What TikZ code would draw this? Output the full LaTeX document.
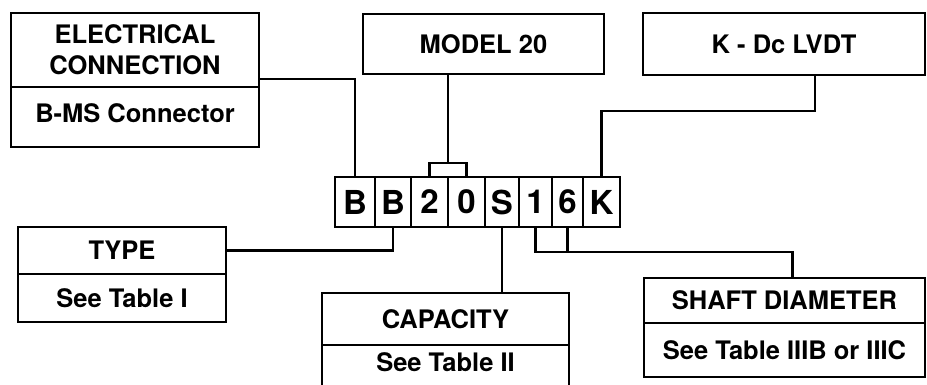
\documentclass[tikz,border=0pt]{standalone}
\usepackage{fontspec}
\setmainfont{TeX Gyre Heros}
\usetikzlibrary{positioning}

\tikzset{
  box/.style={draw, line width=2.2pt, inner sep=0pt, outer sep=0pt, align=center,
    font=\fontsize{25.5}{31}\selectfont\bfseries},
  cell/.style={draw, line width=2.2pt, inner sep=0pt, outer sep=0pt, minimum height=50pt,
    font=\fontsize{33}{33}\selectfont\bfseries},
  wire/.style={line width=2.2pt}
}

\begin{document}
\begin{tikzpicture}[x=1pt, y=1pt]
\useasboundingbox (0,0) rectangle (927,384);
% code row
\node[cell, minimum width=40pt] (c1) at (355,182) {B};
\node[cell, minimum width=36pt, right=0pt of c1] (c2) {B};
\node[cell, minimum width=37pt, right=0pt of c2] (c3) {2};
\node[cell, minimum width=37pt, right=0pt of c3] (c4) {0};
\node[cell, minimum width=34pt, right=0pt of c4] (c5) {S};
\node[cell, minimum width=33pt, right=0pt of c5] (c6) {1};
\node[cell, minimum width=31pt, right=0pt of c6] (c7) {6};
\node[cell, minimum width=37pt, right=0pt of c7] (c8) {K};
% boxes
\node[box, minimum width=248pt, minimum height=74pt] (elechead) at (135,334) {ELECTRICAL\\CONNECTION};
\node[box, minimum width=248pt, minimum height=60pt, text height=18pt, text depth=8pt, below=0pt of elechead] (elecbody) {B-MS Connector};
\node[box, minimum width=241pt, minimum height=60pt] (model) at (483.5,340) {MODEL 20};
\node[box, minimum width=282pt, minimum height=62pt] (lvdt) at (784,340) {K - Dc LVDT};
\node[box, minimum width=208pt, minimum height=47pt] (typehead) at (122,133.5) {TYPE};
\node[box, minimum width=208pt, minimum height=48pt, below=0pt of typehead] (typebody) {See Table I};
\node[box, minimum width=247pt, minimum height=52pt] (caphead) at (445.5,65) {CAPACITY};
\node[box, minimum width=247pt, minimum height=44pt, text height=18pt, text depth=10pt, below=0pt of caphead] (capbody) {See Table II};
\node[box, minimum width=281pt, minimum height=45pt] (shafthead) at (784.5,83.5) {SHAFT DIAMETER};
\node[box, minimum width=281pt, minimum height=54pt, below=0pt of shafthead] (shaftbody) {See Table IIIB or IIIC};
% connectors
\draw[wire] ([yshift=8pt]elechead.south east) -| (c1.north);
\draw[wire] (c3.north) -- ++(0,14) -| coordinate[pos=0.25] (brk) (c4.north);
\draw[wire] (brk) -- (brk |- model.south);
\draw[wire] ([xshift=31pt]lvdt.south) -- ++(0,-36) -| (c8.north);
\draw[wire] (typehead.east) -| (c2.south);
\draw[wire] (c5.south) -- (c5.south |- caphead.north);
\coordinate (sj) at ([shift={(8pt,26pt)}]shafthead.north);
\draw[wire] (c6.south) |- (sj) -- ([xshift=8pt]shafthead.north);
\draw[wire] (c7.south) -- (c7.south |- sj);
\end{tikzpicture}
\end{document}
